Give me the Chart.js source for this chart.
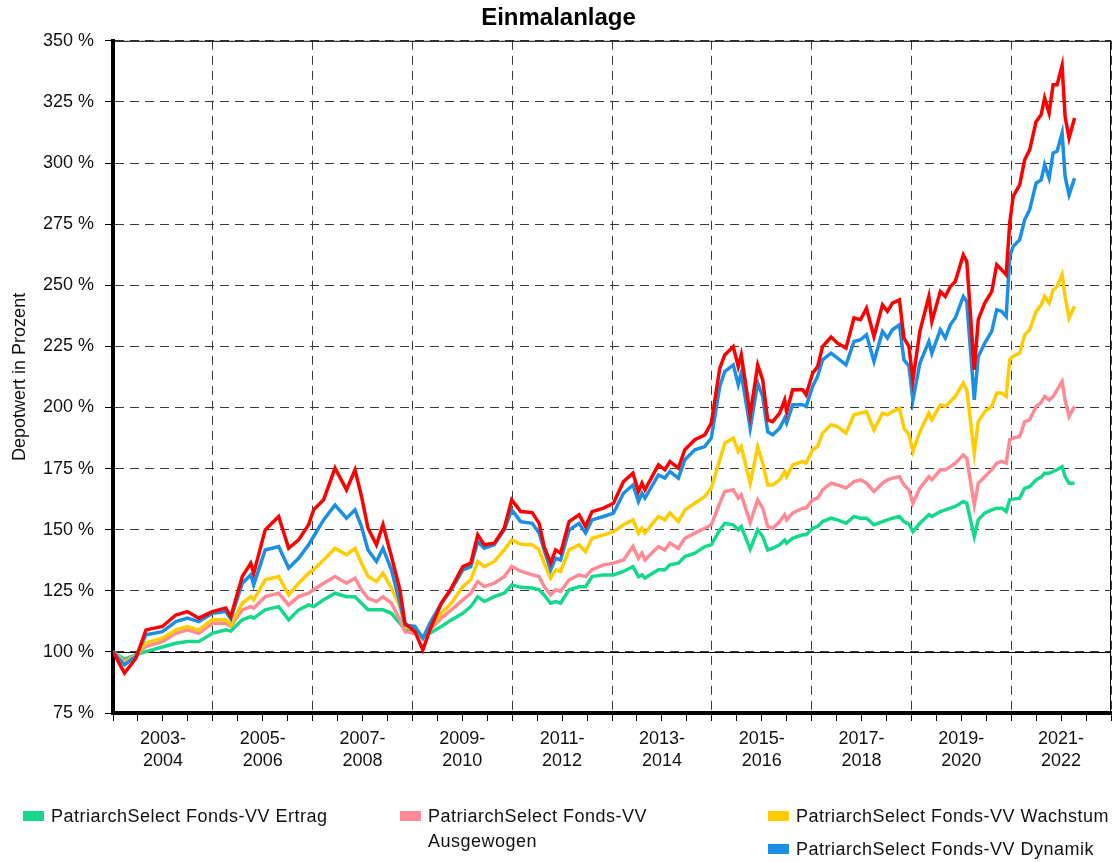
<!DOCTYPE html>
<html>
<head>
<meta charset="utf-8">
<script src="https://cdn.jsdelivr.net/npm/chart.js@4.4.1/dist/chart.umd.min.js"></script>
<style>
  body { margin: 0; background: #fff; }
  #wrap { position: relative; width: 1119px; height: 862px; }
  #legend { position: absolute; left: 0; top: 0; width: 1119px; height: 862px; pointer-events: none;
    font-family: "Liberation Sans", Arial, sans-serif; font-size: 18px; color: #111; letter-spacing: 0.5px; }
  .item { position: absolute; line-height: 25px; }
  .box { position: absolute; width: 21px; height: 10px; }
</style>
</head>
<body>
<div id="wrap">
  <canvas id="chart" width="1119" height="862"></canvas>
  <div id="legend"></div>
</div>
<script>
// dates as decimal years, values in percent of the start value
const dates = [
  2003.00, 2003.23, 2003.46, 2003.66, 2003.99, 2004.26, 2004.49, 2004.72, 2004.99, 2005.26,
  2005.36, 2005.59, 2005.76, 2005.82, 2006.05, 2006.32, 2006.52, 2006.72, 2006.92, 2007.02,
  2007.22, 2007.45, 2007.68, 2007.85, 2007.98, 2008.11, 2008.28, 2008.41, 2008.58, 2008.75,
  2008.85, 2009.05, 2009.21, 2009.35, 2009.58, 2009.78, 2010.01, 2010.17, 2010.31, 2010.44,
  2010.64, 2010.84, 2010.99, 2011.17, 2011.40, 2011.54, 2011.64, 2011.77, 2011.87, 2011.97,
  2012.14, 2012.34, 2012.47, 2012.60, 2012.83, 2013.03, 2013.23, 2013.42, 2013.53, 2013.60,
  2013.66, 2013.93, 2014.06, 2014.16, 2014.33, 2014.46, 2014.66, 2014.86, 2014.99, 2015.16,
  2015.26, 2015.43, 2015.53, 2015.59, 2015.77, 2015.92, 2016.02, 2016.12, 2016.22, 2016.36,
  2016.46, 2016.50, 2016.62, 2016.82, 2016.89, 2017.02, 2017.12, 2017.22, 2017.39, 2017.52,
  2017.69, 2017.85, 2017.98, 2018.10, 2018.25, 2018.42, 2018.52, 2018.62, 2018.76, 2018.85,
  2018.95, 2019.03, 2019.17, 2019.35, 2019.41, 2019.58, 2019.68, 2019.78, 2019.88, 2020.04,
  2020.11, 2020.26, 2020.34, 2020.47, 2020.61, 2020.71, 2020.81, 2020.90, 2020.97, 2021.04,
  2021.17, 2021.27, 2021.37, 2021.50, 2021.60, 2021.67, 2021.76, 2021.84, 2021.92, 2022.02,
  2022.08, 2022.16, 2022.27
];

const ertrag = [
  100, 97, 98.8, 100.1, 102, 103.5, 104.2, 104.2, 107.6, 109,
  108.5, 113.1, 114.4, 113.8, 117.2, 118.5, 113.1, 117.2, 119.2, 118.5,
  121.3, 124, 122.6, 122.6, 119.9, 117.2, 117.2, 117.2, 115.8, 111.7,
  109, 107.6, 106.3, 107.6, 110.4, 113.1, 115.8, 118.5, 122.6, 120.6,
  122.6, 124, 127.4, 126.4, 126.1, 125.4, 123.3, 119.9, 120.6, 119.9,
  125.4, 126.7, 126.7, 130.8, 131.5, 131.5, 132.9, 134.9, 130.8, 131.5,
  130.2, 133.6, 133.6, 135.6, 136.3, 139, 140.4, 143.1, 143.8, 149.9,
  152.6, 152, 149.9, 151.3, 142, 149.9, 147.2, 141.7, 142.4, 143.8,
  145.8, 144.5, 146.5, 147.9, 147.9, 150.6, 151.3, 153.3, 154.7, 154,
  152.6, 155.4, 154.7, 154.7, 152, 153.3, 154, 154.7, 155.4, 153.3,
  152.3, 149.2, 152.6, 156.1, 155.4, 157.4, 158.1, 158.8, 159.5, 161.5,
  160.8, 147.2, 154, 156.8, 158.1, 158.8, 158.8, 157.4, 162.2, 162.5,
  162.9, 167, 167.6, 170.4, 171.5, 173.1, 173.1, 173.8, 174.5, 175.8,
  171.7, 169, 169
];

const ausgewogen = [
  100, 96, 98.7, 102.2, 104.2, 107.6, 109, 107.6, 111.7, 111.7,
  110.4, 117.2, 118.5, 117.9, 122.6, 124, 119.2, 122.6, 124, 125.4,
  128.1, 130.8, 128.1, 130.2, 125.4, 121.9, 120.6, 122.6, 119.9, 113.1,
  108.3, 107.6, 105.6, 109, 113.8, 117.2, 121.3, 124, 128.8, 126.7,
  128.1, 130.8, 134.9, 133, 131.5, 130.8, 126.7, 123.3, 125.4, 124.7,
  129.5, 131.5, 130.8, 133.6, 135.6, 136.3, 137.6, 143.1, 138.3, 140.4,
  137.6, 143.1, 141.7, 144.5, 142.4, 146.5, 148.6, 150.6, 152, 160.8,
  165.6, 166.3, 162.9, 164.2, 153, 162.2, 158.8, 151.3, 150.6, 153.3,
  156.1, 154, 156.8, 158.8, 158.8, 162.2, 162.9, 166.3, 169, 168.3,
  167, 169.7, 170.4, 169, 165.6, 169, 170.4, 171.1, 171.7, 168.3,
  166.3, 160.8, 167, 171.7, 170.4, 174.5, 174.5, 175.8, 177.2, 180.6,
  179.2, 160.1, 169, 171.7, 174.5, 177.2, 177.9, 177.2, 186.8, 187.5,
  188.1, 194.2, 194.9, 200.4, 202, 204.5, 203.1, 204.5, 207.2, 210.6,
  203.1, 196.3, 200.4
];

const wachstum = [
  100, 95.5, 98.5, 103.7, 105.6, 109, 110.4, 109, 113.1, 113.1,
  111, 119.9, 122.6, 121.3, 129.5, 130.8, 123.3, 128.1, 132.2, 133.6,
  137.6, 142.4, 139.7, 142.4, 136.3, 130.8, 128.8, 132.2, 126.1, 118.5,
  110.4, 109, 105.6, 109.7, 115.8, 119.9, 126.7, 129.5, 137, 134.9,
  137, 141.7, 145.8, 144, 143.8, 141.7, 136.3, 130.2, 133.6, 132.9,
  141.7, 143.8, 141, 146.5, 147.9, 149.2, 152, 154, 148.6, 150.6,
  148.6, 155.4, 154, 156.8, 153.3, 158.1, 160.8, 163.6, 167, 178.6,
  185.4, 187.5, 182, 184, 169, 184, 177.2, 168.3, 168.3, 170.4,
  173.8, 171.7, 176.5, 177.9, 177.2, 182.7, 184, 189.5, 192.9, 192.2,
  189.5, 197, 197.7, 198.3, 190.8, 197.7, 197, 198.3, 199.7, 191.5,
  189, 182, 190.1, 197.7, 194.9, 201.1, 200.4, 202.4, 204.5, 210,
  207.2, 181.3, 194.2, 198.3, 200.4, 205.9, 205.9, 204.5, 219.5, 221,
  222.2, 229.7, 231.8, 239.3, 242, 245.4, 242.7, 248.1, 249.5, 254.3,
  245.4, 236.6, 241.4
];

const dynamik = [
  100, 94.7, 98.3, 107, 108.3, 112.4, 113.8, 112.4, 115.8, 116.5,
  113.5, 128.1, 131.5, 127.4, 141.7, 143.1, 134.3, 138.3, 143.8, 147.2,
  154, 160.1, 154.7, 158.1, 151.3, 141.7, 137, 142.4, 133.6, 119.9,
  111, 110.4, 105.6, 111.7, 119.9, 125.4, 133.6, 134.9, 145.1, 142.4,
  143.8, 149.9, 158.1, 153.3, 152.6, 148.6, 141.7, 133.6, 138.3, 137.6,
  149.9, 152.6, 148.6, 154, 155.4, 156.8, 164.9, 168.3, 161.5, 164.9,
  162.9, 172.4, 171.1, 173.8, 171.1, 178.6, 182.7, 184, 187.5, 208.6,
  214.7, 217.4, 209.3, 214, 191.5, 210, 204.5, 190.1, 188.8, 191.5,
  195.6, 193.6, 201.1, 201.1, 200.4, 208.6, 212.7, 219.5, 222.2, 220.2,
  217.4, 227, 227.7, 229.7, 218.8, 231.1, 228.4, 231.8, 233.8, 219.5,
  217, 203.1, 218.1, 227, 222.2, 231.8, 228.4, 233.8, 236.6, 245.4,
  243.3, 203.1, 220.8, 226.3, 231.1, 240, 239.3, 237.2, 261.8, 265.9,
  268.6, 276.8, 280.9, 291.8, 293.1, 299.3, 293.8, 304.1, 304.8, 312.2,
  294.5, 287, 293.8
];

// red line, no legend entry in the original
const vergleich = [
  100, 91.3, 97.4, 109, 110.4, 115.1, 116.5, 113.8, 116.5, 117.9,
  114.4, 130.8, 136.3, 132.2, 149.9, 155.4, 142.4, 145.8, 152, 158.1,
  162.2, 175.2, 166.3, 174.5, 163.6, 150.6, 143.8, 152, 139, 125.4,
  111.7, 108.3, 100.8, 109, 119.9, 126.1, 134.9, 136.3, 147.9, 143.8,
  144.5, 150.6, 162.2, 157.4, 157, 152.6, 143.1, 136.3, 141.7, 140.4,
  153.3, 156.1, 151.3, 157.4, 158.8, 160.8, 169.7, 173.1, 165.6, 169,
  166.3, 176.5, 174.5, 177.9, 175.2, 182.7, 186.8, 188.8, 193.6, 216.1,
  221.5, 224.9, 216.7, 221.5, 197, 217.4, 211.3, 194.9, 194.2, 197.7,
  203.1, 198.3, 207.2, 207.2, 205.2, 214, 216.7, 224.9, 228.8, 226.3,
  224.3, 236.6, 235.9, 240.6, 229, 242, 239.3, 242.7, 244, 228.4,
  225, 211.3, 231.1, 245.4, 235.2, 247.4, 245.4, 249.5, 251.5, 262.4,
  259.7, 215.4, 235.9, 242.7, 247.4, 258.4, 256.3, 254.3, 275.4, 286.3,
  291.1, 301.3, 305.4, 317, 319.7, 326.6, 320.4, 332, 332, 339.8,
  319, 310.2, 318.4
];

const seriesNames = [
  "PatriarchSelect Fonds-VV Ertrag",
  "PatriarchSelect Fonds-VV Ausgewogen",
  "PatriarchSelect Fonds-VV Wachstum",
  "PatriarchSelect Fonds-VV Dynamik",
  ""
];
const seriesColors = ["#14d98a", "#ff8a94", "#ffcc00", "#1a8fe3", "#ff0000"];
const seriesValues = [ertrag, ausgewogen, wachstum, dynamik, vergleich];
// drawing order: red on top, green at the bottom
const seriesOrder = [5, 4, 3, 2, 1];

// where the legend entries sit under the chart (top of the first text line)
const legendSlots = [
  { left: 23, top: 804 },
  { left: 400, top: 804, width: 250 },
  { left: 768, top: 804 },
  { left: 768, top: 837 },
];

Chart.defaults.font.family = "'Liberation Sans', Arial, sans-serif";
Chart.defaults.color = "#111";

// solid 100 % line and the thin top / right frame
const frameLines = {
  id: "frameLines",
  beforeDatasetsDraw(chart) {
    const { ctx, chartArea: a, scales } = chart;
    const y100 = Math.round(scales.y.getPixelForValue(100)) + 0.5;
    ctx.save();
    ctx.strokeStyle = "#000";
    ctx.lineWidth = 1;
    ctx.setLineDash([]);
    ctx.beginPath();
    ctx.moveTo(a.left, y100);
    ctx.lineTo(a.right, y100);
    ctx.moveTo(a.left, a.top + 0.5);
    ctx.lineTo(a.right, a.top + 0.5);
    ctx.moveTo(a.right - 0.5, a.top);
    ctx.lineTo(a.right - 0.5, a.bottom);
    ctx.stroke();
    ctx.restore();
  }
};

const halfYear = (v) => Math.round((v - 2003) * 2);

const myChart = new Chart(document.getElementById("chart"), {
  type: "line",
  plugins: [frameLines],
  data: {
    datasets: seriesValues.map((vals, i) => ({
      label: seriesNames[i],
      data: dates.map((d, j) => ({ x: d, y: vals[j] })),
      borderColor: seriesColors[i],
      backgroundColor: seriesColors[i],
      borderWidth: 3.5,
      pointRadius: 0,
      tension: 0,
      order: seriesOrder[i],
    })),
  },
  options: {
    responsive: false,
    animation: false,
    layout: { padding: { left: 0, right: 2, top: 0, bottom: 0 } },
    plugins: {
      legend: { display: false },
      tooltip: { enabled: false },
      title: {
        display: true,
        text: "Einmalanlage",
        color: "#000",
        font: { size: 24, weight: "bold" },
        padding: { top: 4, bottom: 8 },
      },
    },
    scales: {
      x: {
        type: "linear",
        min: 2003,
        max: 2023,
        afterFit: (s) => { s.height = 149; },
        border: { display: true, color: "#000", width: 4, dash: [9, 6] },
        grid: {
          color: (c) => (halfYear(c.tick.value) % 4 === 0 ? "#3a3a3a" : "rgba(0,0,0,0)"),
          tickColor: "#000",
          tickLength: 8,
          lineWidth: 1,
        },
        ticks: {
          stepSize: 0.5,
          autoSkip: false,
          maxRotation: 0,
          maxTicksLimit: 100,
          padding: 8,
          color: "#111",
          font: { size: 18, lineHeight: 1.17 },
          callback: (v) => {
            const k = halfYear(v);
            if (k % 4 !== 2) return "";
            const y = 2003 + (k - 2) / 2;
            return [y + "-", String(y + 1)];
          },
        },
      },
      y: {
        min: 75,
        max: 350,
        afterFit: (s) => { s.width = 113; },
        border: { display: true, color: "#000", width: 4, dash: [9, 6] },
        grid: { color: "#3a3a3a", tickColor: "#000", tickLength: 8, lineWidth: 1 },
        title: {
          display: true,
          text: "Depotwert in Prozent",
          color: "#111",
          font: { size: 18 },
          padding: { top: 9, bottom: 0 },
        },
        ticks: {
          stepSize: 25,
          padding: 11,
          color: "#111",
          font: { size: 18 },
          callback: (v) => v + " %",
        },
      },
    },
  },
});

// legend below the chart, built from the datasets
const legendEl = document.getElementById("legend");
myChart.data.datasets.forEach((ds, i) => {
  const slot = legendSlots[i];
  if (!slot || !ds.label) return;
  const box = document.createElement("div");
  box.className = "box";
  box.style.left = slot.left + "px";
  box.style.top = (slot.top + 7) + "px";
  box.style.background = ds.borderColor;
  legendEl.appendChild(box);
  const txt = document.createElement("div");
  txt.className = "item";
  txt.style.left = (slot.left + 28) + "px";
  txt.style.top = slot.top + "px";
  if (slot.width) txt.style.width = slot.width + "px";
  txt.textContent = ds.label;
  legendEl.appendChild(txt);
});
</script>
</body>
</html>
